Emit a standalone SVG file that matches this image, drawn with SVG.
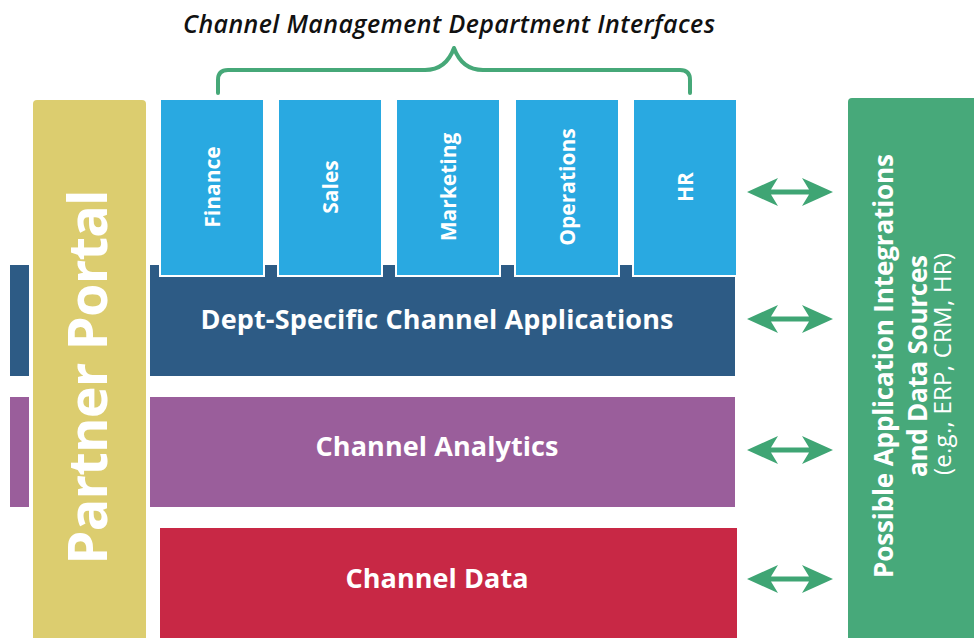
<svg xmlns="http://www.w3.org/2000/svg" width="974" height="638" viewBox="0 0 974 638">
<style>
.lbl{font-family:"Open Sans","Liberation Sans",sans-serif;fill:#fff;font-weight:700}
.big{font-size:27px;text-anchor:middle}
.dept{font-size:21px;text-anchor:middle;font-weight:700}
.pp{font-size:54px;text-anchor:middle}
.side{font-size:26px;text-anchor:middle}
.note{font-size:24px;text-anchor:middle;font-weight:400}
.arrow{fill:#3fa574}
</style>
<defs>
<path id="dblarrow" d="M-43,0 L-12,-14 L-19,-2.5 L19,-2.5 L12,-14 L43,0 L12,14 L19,2.5 L-19,2.5 L-12,14 Z"/>
</defs>
<rect width="974" height="638" fill="#fff"/>
<g id="title">
<text x="449" y="33" font-family="'Open Sans','Liberation Sans',sans-serif" font-size="25" font-style="italic" font-weight="600" fill="#111" text-anchor="middle" textLength="532">Channel Management Department Interfaces</text>
<path d="M218,93 L218,80 Q218,70 228,70 L425,70 Q446,70 454,48 Q462,70 483,70 L680,70 Q690,70 690,80 L690,93" fill="none" stroke="#46a878" stroke-width="4" stroke-linecap="round" stroke-linejoin="round"/>
</g>
<g id="dept-apps">
<rect x="10" y="265" width="19" height="111" fill="#2d5b85"/>
<rect x="150" y="265" width="585" height="111" fill="#2d5b85"/>
<text class="lbl big" x="437" y="329" textLength="473">Dept-Specific Channel Applications</text>
</g>
<g id="analytics">
<rect x="10" y="397" width="19" height="110" fill="#9a5e9b"/>
<rect x="150" y="397" width="585" height="110" fill="#9a5e9b"/>
<text class="lbl big" x="437" y="456" textLength="243">Channel Analytics</text>
</g>
<g id="data">
<rect x="160" y="528" width="577" height="110" fill="#c82845"/>
<text class="lbl big" x="437" y="588" textLength="183">Channel Data</text>
</g>
<g id="finance">
<rect x="160" y="99" width="104" height="177" fill="#29a9e1" stroke="#fff" stroke-width="2"/>
<text class="lbl dept" transform="translate(220,187) rotate(-90)">Finance</text>
</g>
<g id="sales">
<rect x="278" y="99" width="104" height="177" fill="#29a9e1" stroke="#fff" stroke-width="2"/>
<text class="lbl dept" transform="translate(338,187) rotate(-90)">Sales</text>
</g>
<g id="marketing">
<rect x="396" y="99" width="104" height="177" fill="#29a9e1" stroke="#fff" stroke-width="2"/>
<text class="lbl dept" transform="translate(456,187) rotate(-90)">Marketing</text>
</g>
<g id="operations">
<rect x="515" y="99" width="104" height="177" fill="#29a9e1" stroke="#fff" stroke-width="2"/>
<text class="lbl dept" transform="translate(575,187) rotate(-90)">Operations</text>
</g>
<g id="hr">
<rect x="633" y="99" width="104" height="177" fill="#29a9e1" stroke="#fff" stroke-width="2"/>
<text class="lbl dept" transform="translate(693,187) rotate(-90)">HR</text>
</g>
<g id="partner-portal">
<path d="M33,104 Q33,100 37,100 L142,100 Q146,100 146,104 L146,638 L33,638 Z" fill="#dccd6f"/>
<text class="lbl pp" transform="translate(107,377) rotate(-90)" textLength="375">Partner Portal</text>
</g>
<g id="integrations">
<path d="M848,102 Q848,98 852,98 L974,98 L974,638 L848,638 Z" fill="#47a97a"/>
<text class="lbl side" transform="translate(893,366) rotate(-90)" textLength="424">Possible Application Integrations</text>
<text class="lbl side" font-size="27" transform="translate(927,366) rotate(-90)" textLength="222">and Data Sources</text>
<text class="lbl note" transform="translate(951,364) rotate(-90)" textLength="222">(e.g., ERP, CRM, HR)</text>
</g>
<g id="connectors">
<use href="#dblarrow" class="arrow" x="790" y="192"/>
<use href="#dblarrow" class="arrow" x="790" y="319"/>
<use href="#dblarrow" class="arrow" x="790" y="450"/>
<use href="#dblarrow" class="arrow" x="790" y="579"/>
</g>
</svg>
